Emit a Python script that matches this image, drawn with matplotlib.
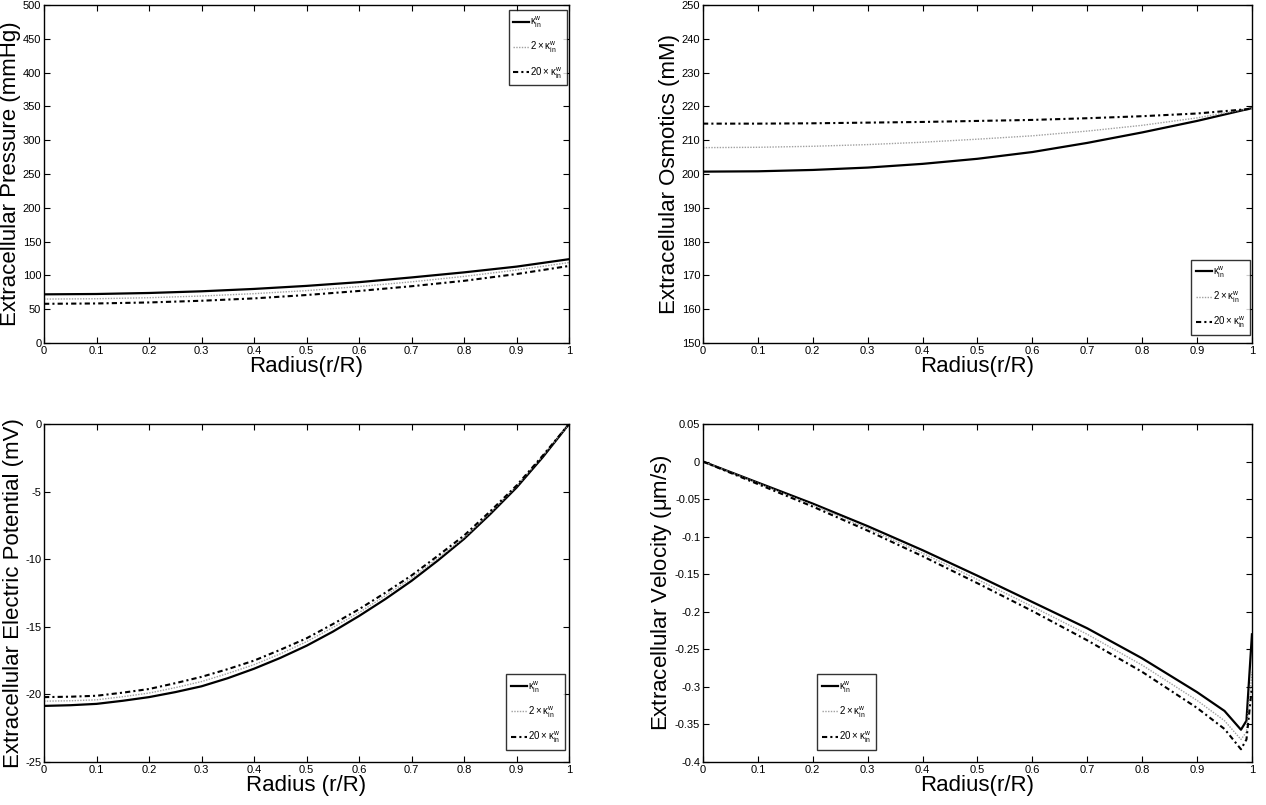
import numpy as np
import matplotlib
matplotlib.use('Agg')
import matplotlib.pyplot as plt
from matplotlib.ticker import FuncFormatter

plt.rcParams['font.family'] = ['Liberation Sans', 'DejaVu Sans']
plt.rcParams['axes.unicode_minus'] = False
plt.rcParams['mathtext.fontset'] = 'custom'
plt.rcParams['mathtext.rm'] = 'Liberation Sans'

# radius samples
r = [0.0, 0.1, 0.2, 0.3, 0.4, 0.5, 0.6, 0.7, 0.8, 0.9, 1.0]
r_fine = [0.0, 0.05, 0.1, 0.15, 0.2, 0.25, 0.3, 0.35, 0.4, 0.45, 0.5,
          0.55, 0.6, 0.65, 0.7, 0.75, 0.8, 0.85, 0.9, 0.95, 1.0]
r_vel = [0.0, 0.1, 0.2, 0.3, 0.4, 0.5, 0.6, 0.7, 0.8, 0.9, 0.95, 0.98, 0.99, 1.0]

labels = [r'$\mathregular{\kappa^{w}_{in}}$',
          r'$\mathregular{2\times\kappa^{w}_{in}}$',
          r'$\mathregular{20\times\kappa^{w}_{in}}$']

# pressure (mmHg)
p_1 = [72, 72.5, 74, 76.5, 80, 84.5, 90, 97, 104.5, 113, 124]
p_2 = [65, 65.5, 67, 69.5, 73, 77.5, 83.5, 90.5, 98.5, 108, 119]
p_20 = [58, 58.5, 60, 62.5, 66, 71, 77, 84, 92, 102, 114]

# osmotics (mM)
o_1 = [200.7, 200.8, 201.2, 201.9, 203.0, 204.5, 206.5, 209.2, 212.3, 215.7, 219.5]
o_2 = [207.8, 207.9, 208.2, 208.7, 209.4, 210.3, 211.3, 212.7, 214.4, 216.6, 219.5]
o_20 = [214.9, 214.9, 215.0, 215.2, 215.4, 215.7, 216.0, 216.5, 217.1, 217.9, 219.3]

# electric potential (mV)
e_1 = [-20.85, -20.80, -20.70, -20.47, -20.20, -19.83, -19.40, -18.80, -18.10, -17.30, -16.40,
       -15.36, -14.20, -12.95, -11.60, -10.10, -8.50, -6.66, -4.70, -2.45, 0.0]
e_2 = [-20.50, -20.47, -20.40, -20.17, -19.90, -19.50, -19.05, -18.45, -17.80, -17.00, -16.10,
       -15.05, -13.95, -12.70, -11.40, -9.93, -8.40, -6.55, -4.60, -2.36, 0.0]
e_20 = [-20.20, -20.17, -20.10, -19.87, -19.60, -19.17, -18.70, -18.13, -17.50, -16.70, -15.85,
        -14.80, -13.70, -12.48, -11.20, -9.75, -8.25, -6.45, -4.55, -2.33, 0.0]

# velocity (um/s)
v_1 = [0, -0.028, -0.056, -0.086, -0.118, -0.152, -0.187, -0.222, -0.262, -0.307, -0.332, -0.357, -0.345, -0.23]
v_2 = [0, -0.029, -0.058, -0.089, -0.122, -0.157, -0.193, -0.230, -0.271, -0.318, -0.345, -0.370, -0.360, -0.28]
v_20 = [0, -0.030, -0.060, -0.092, -0.126, -0.162, -0.199, -0.238, -0.280, -0.328, -0.356, -0.383, -0.370, -0.30]


def tick_fmt(v, pos):
    if abs(v) < 1e-9:
        return '0'
    return '%g' % round(v, 6)


def panel(fig, rect, x, ys, ylim, ystep, xlabel, ylabel, leg_loc, leg_anchor):
    ax = fig.add_axes(rect)
    ax.plot(x, ys[0], color='black', lw=1.6, ls='-', label=labels[0])
    ax.plot(x, ys[1], color='#a0a0a0', lw=1.0, ls=(0, (1, 1)), label=labels[1])
    ax.plot(x, ys[2], color='black', lw=1.5, ls=(0, (2.5, 1.5, 1, 1.5)), label=labels[2])
    ax.set_xlim(0, 1)
    ax.set_ylim(*ylim)
    ax.set_xticks(np.arange(0, 1.01, 0.1))
    ax.set_yticks(np.arange(ylim[0], ylim[1] + ystep / 2, ystep))
    ax.xaxis.set_major_formatter(FuncFormatter(tick_fmt))
    ax.yaxis.set_major_formatter(FuncFormatter(tick_fmt))
    ax.tick_params(direction='in', top=True, right=True, length=4, width=0.8,
                   labelsize=8, pad=2,
                   labelfontfamily=['Liberation Sans Narrow', 'Liberation Sans'])
    for s in ax.spines.values():
        s.set_linewidth(1.0)
    ax.set_xlabel(xlabel, fontsize=16, labelpad=0)
    ax.set_ylabel(ylabel, fontsize=16, labelpad=1)
    leg = ax.legend(loc=leg_loc, bbox_to_anchor=leg_anchor, fontsize=7,
                    frameon=True, fancybox=False, edgecolor='black',
                    handlelength=1.6, handletextpad=0.1, labelspacing=1.0,
                    borderpad=0.5, borderaxespad=0)
    leg.get_frame().set_linewidth(1.0)
    return ax


fig = plt.figure(figsize=(12.66, 8.05), dpi=100)

panel(fig, [0.0348, 0.5739, 0.4147, 0.4199], r, [p_1, p_2, p_20], (0, 500), 50,
      'Radius(r/R)', 'Extracellular Pressure (mmHg)', 'upper right', (0.996, 0.985))
panel(fig, [0.5553, 0.5739, 0.4336, 0.4199], r, [o_1, o_2, o_20], (150, 250), 10,
      'Radius(r/R)', 'Extracellular Osmotics (mM)', 'lower right', (0.996, 0.024))
panel(fig, [0.0348, 0.0534, 0.4147, 0.4199], r_fine, [e_1, e_2, e_20], (-25, 0), 5,
      'Radius (r/R)', 'Extracellular Electric Potential (mV)', 'lower right', (0.992, 0.036))
panel(fig, [0.5553, 0.0534, 0.4336, 0.4199], r_vel, [v_1, v_2, v_20], (-0.4, 0.05), 0.05,
      'Radius(r/R)', r'Extracellular Velocity ($\mathregular{\mu}$m/s)', 'lower left', (0.208, 0.036))

fig.savefig('out.png', dpi=100)
